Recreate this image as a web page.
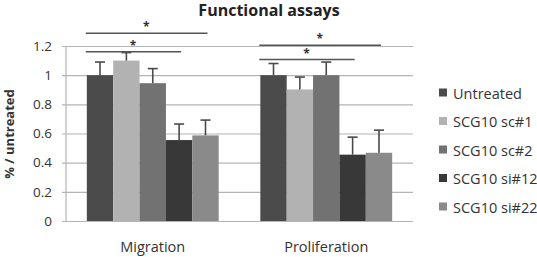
<!DOCTYPE html>
<html>
<head>
<meta charset="utf-8">
<script src="https://cdn.jsdelivr.net/npm/d3@7"></script>
<style>
  body { margin: 0; background: #fff; }
  svg { display: block; font-family: 'Open Sans', sans-serif; }
</style>
</head>
<body>
<div id="root"></div>
<script>
const assays = ['Migration', 'Proliferation'];
const treatments = ['Untreated', 'SCG10 sc#1', 'SCG10 sc#2', 'SCG10 si#12', 'SCG10 si#22'];
const migrationValues = [1.0, 1.1, 0.945, 0.555, 0.587];
const migrationErrors = [0.09, 0.055, 0.1, 0.11, 0.105];
const proliferationValues = [1.0, 0.902, 1.0, 0.455, 0.468];
const proliferationErrors = [0.08, 0.085, 0.09, 0.12, 0.155];
const yTicks = [0, 0.2, 0.4, 0.6, 0.8, 1, 1.2];
// significance brackets: assay, from bar, to bar, height on y scale
const significance = [
  { assay: 'Migration', from: 0, to: 4, level: 1.288 },
  { assay: 'Migration', from: 0, to: 3, level: 1.16 },
  { assay: 'Proliferation', from: 0, to: 4, level: 1.205 },
  { assay: 'Proliferation', from: 0, to: 3, level: 1.107 },
];

const colors = ['#4b4b4b', '#b2b2b2', '#727272', '#383838', '#8a8a8a'];

const rows = assays.map((assay, i) => ({
  assay,
  bars: treatments.map((t, j) => ({
    treatment: t,
    index: j,
    value: i === 0 ? migrationValues[j] : proliferationValues[j],
    error: i === 0 ? migrationErrors[j] : proliferationErrors[j],
  })),
}));

const dimensions = {
  width: 537,
  height: 257,
  margin: { top: 46, right: 124, bottom: 36, left: 66 },
};
dimensions.boundedWidth =
  dimensions.width - (dimensions.margin.left + dimensions.margin.right);
dimensions.boundedHeight =
  dimensions.height - (dimensions.margin.top + dimensions.margin.bottom);

const x0 = d3
  .scaleBand()
  .domain(assays)
  .range([0, dimensions.boundedWidth])
  .paddingInner(0.24)
  .paddingOuter(0.12);

const x1 = d3
  .scaleBand()
  .domain(d3.range(treatments.length))
  .range([0, x0.bandwidth()]);

const yScale = d3
  .scaleLinear()
  .domain([0, 1.2])
  .range([dimensions.boundedHeight, 0]);

const wrapper = d3
  .select('#root')
  .append('svg')
  .attr('width', dimensions.width)
  .attr('height', dimensions.height);

wrapper
  .append('text')
  .attr('x', 269)
  .attr('y', 16)
  .attr('text-anchor', 'middle')
  .attr('font-size', 16)
  .attr('font-weight', 'bold')
  .attr('fill', '#222')
  .text('Functional assays');

const bounds = wrapper
  .append('g')
  .attr('transform', `translate(${dimensions.margin.left},${dimensions.margin.top})`);

// gridlines + y axis
const yAxisGenerator = d3
  .axisLeft(yScale)
  .tickValues(yTicks)
  .tickFormat(d3.format('~g'))
  .tickSize(-dimensions.boundedWidth)
  .tickPadding(14);

const yAxisGroup = bounds.append('g').call(yAxisGenerator);
yAxisGroup.select('path').remove();
yAxisGroup
  .selectAll('.tick line')
  .attr('x1', -4)
  .attr('stroke', '#b4b4b4')
  .attr('stroke-width', 1.2);
yAxisGroup
  .selectAll('.tick text')
  .attr('font-size', 13.5)
  .attr('fill', '#333')
  .attr('font-family', "'Open Sans', sans-serif");

bounds
  .append('line')
  .attr('x1', 0)
  .attr('x2', 0)
  .attr('y1', 0)
  .attr('y2', dimensions.boundedHeight)
  .attr('stroke', '#b4b4b4')
  .attr('stroke-width', 1.2);

wrapper
  .append('text')
  .attr('transform', `translate(14, 134) rotate(-90)`)
  .attr('text-anchor', 'middle')
  .attr('font-size', 13)
  .attr('font-weight', 'bold')
  .attr('fill', '#333')
  .text('% / untreated');

// bars
const groups = bounds
  .selectAll('g.assay')
  .data(rows)
  .join('g')
  .attr('class', 'assay')
  .attr('transform', d => `translate(${x0(d.assay)},0)`);

groups
  .selectAll('rect')
  .data(d => d.bars)
  .join('rect')
  .attr('x', d => x1(d.index))
  .attr('width', x1.bandwidth())
  .attr('y', d => yScale(d.value))
  .attr('height', d => dimensions.boundedHeight - yScale(d.value))
  .attr('fill', d => colors[d.index]);

// error bars (upper only)
const errors = groups
  .selectAll('g.err')
  .data(d => d.bars)
  .join('g')
  .attr('class', 'err')
  .attr('transform', d => `translate(${x1(d.index) + x1.bandwidth() / 2},0)`)
  .attr('stroke', '#4a4a4a')
  .attr('stroke-width', 1.6);

errors
  .append('line')
  .attr('y1', d => yScale(d.value))
  .attr('y2', d => yScale(d.value + d.error));

errors
  .append('line')
  .attr('x1', -5)
  .attr('x2', 5)
  .attr('y1', d => yScale(d.value + d.error))
  .attr('y2', d => yScale(d.value + d.error));

// significance brackets
const sigGroups = bounds
  .selectAll('g.sig')
  .data(significance)
  .join('g')
  .attr('class', 'sig');

sigGroups
  .append('line')
  .attr('x1', d => x0(d.assay) + x1(d.from) - 1)
  .attr('x2', d => x0(d.assay) + x1(d.to) + x1.bandwidth() / 2 + 2)
  .attr('y1', d => yScale(d.level))
  .attr('y2', d => yScale(d.level))
  .attr('stroke', '#555')
  .attr('stroke-width', 1.5);

sigGroups
  .append('text')
  .attr('x', d => {
    const a = x0(d.assay) + x1(d.from);
    const b = x0(d.assay) + x1(d.to) + x1.bandwidth() / 2;
    return (a + b) / 2;
  })
  .attr('y', d => yScale(d.level) - 2)
  .attr('text-anchor', 'middle')
  .attr('font-size', 12)
  .attr('font-weight', 'bold')
  .attr('fill', '#333')
  .text('*');

// category labels
bounds
  .append('g')
  .selectAll('text')
  .data(assays)
  .join('text')
  .attr('x', d => x0(d) + x0.bandwidth() / 2)
  .attr('y', dimensions.boundedHeight + 31)
  .attr('text-anchor', 'middle')
  .attr('font-size', 14.5)
  .attr('fill', '#333')
  .text(d => d);

// legend
const legend = wrapper
  .append('g')
  .attr('transform', 'translate(439, 93)');

const legendItems = legend
  .selectAll('g')
  .data(treatments)
  .join('g')
  .attr('transform', (d, i) => `translate(0, ${i * 28.5})`);

legendItems
  .append('rect')
  .attr('x', 0)
  .attr('y', -4.5)
  .attr('width', 8)
  .attr('height', 8)
  .attr('fill', (d, i) => colors[i]);

legendItems
  .append('text')
  .attr('x', 14)
  .attr('y', 5.5)
  .attr('font-size', 14.5)
  .attr('fill', '#333')
  .text(d => d);
</script>
</body>
</html>
